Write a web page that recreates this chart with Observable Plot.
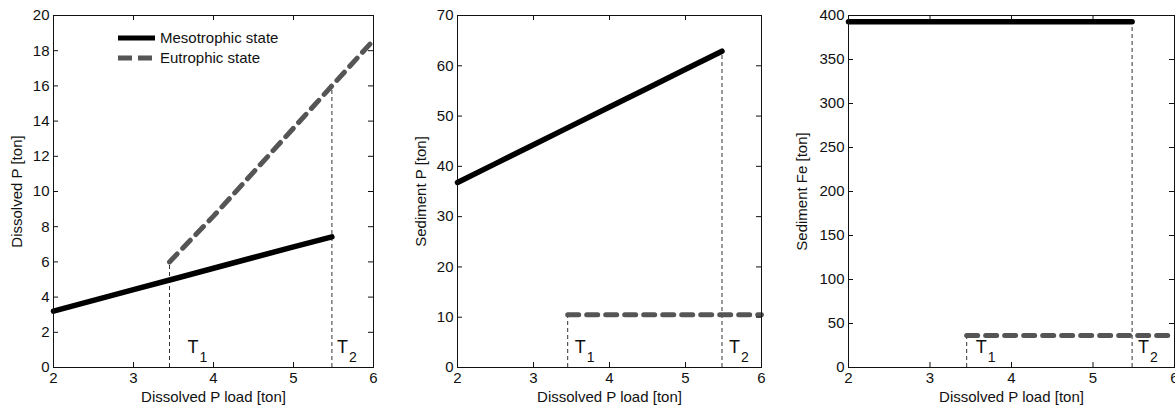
<!DOCTYPE html>
<html><head><meta charset="utf-8">
<script src="https://cdn.jsdelivr.net/npm/d3@7"></script>
<script src="https://cdn.jsdelivr.net/npm/@observablehq/plot@0.6"></script>
<style>
body{margin:0;background:#fff;font-family:"Liberation Sans",Arial,sans-serif;}
#wrap{position:relative;width:1175px;height:406px;overflow:hidden;background:#fff;}
.panel{position:absolute;top:0;}
.panel svg{overflow:visible;}
#legend{position:absolute;left:118px;top:28px;font-size:15px;color:#111;line-height:20px;}
#legend div{display:flex;align-items:center;height:20px;}
#legend svg{margin-right:5px;}
</style></head><body><div id="wrap"></div>
<script>
// ---- data ----
const xTicks = [2, 3, 4, 5, 6];
const yTicksDissolved = [0, 2, 4, 6, 8, 10, 12, 14, 16, 18, 20];
const yTicksSedP = [0, 10, 20, 30, 40, 50, 60, 70];
const yTicksSedFe = [0, 50, 100, 150, 200, 250, 300, 350, 400];

const loadMeso = [2.0, 2.5, 3.0, 3.5, 4.0, 4.5, 5.0, 5.48];
const dissolvedMeso = [3.2, 3.81, 4.42, 5.03, 5.64, 6.25, 6.85, 7.42];
const sedPMeso = [36.8, 40.55, 44.3, 48.05, 51.8, 55.55, 59.3, 62.9];
const sedFeMeso = [393, 393, 393, 393, 393, 393, 393, 393];

const loadEut = [3.45, 4.0, 4.5, 5.0, 5.48, 6.0];
const dissolvedEut = [6.0, 8.6, 11.1, 13.6, 16.0, 18.6];
const sedPEut = [10.5, 10.5, 10.5, 10.5, 10.5, 10.5];
const sedFeEut = [36.5, 36.5, 36.5, 36.5, 36.5, 36.5];

const thresholds = [3.45, 5.48];
const thresholdNames = ["T", "T"];
const thresholdSubs = ["1", "2"];
const thrTopDissolved = [6.0, 16.0];
const thrTopSedP = [10.5, 62.9];
const thrTopSedFe = [36.5, 393];

const seriesNames = ["Mesotrophic state", "Eutrophic state"];
const xLabel = "Dissolved P load [ton]";

// ---- layout ----
const H = 406, MT = 15, MB = 39;
const frameH = H - MT - MB;
const FS = 15;
const panels = [
  {left: 0, width: 390, ml: 53, mr: 17, yDomain: [0, 20], yTicks: yTicksDissolved, label: "Dissolved P [ton]", lo: 42,
   meso: dissolvedMeso, eut: dissolvedEut, thrTop: thrTopDissolved, tdx: [18, 5]},
  {left: 390, width: 390, ml: 67, mr: 19, yDomain: [0, 70], yTicks: yTicksSedP, label: "Sediment P [ton]", lo: 42,
   meso: sedPMeso, eut: sedPEut, thrTop: thrTopSedP, tdx: [7, 7]},
  {left: 780, width: 395, ml: 68, mr: 1, yDomain: [0, 400], yTicks: yTicksSedFe, label: "Sediment Fe [ton]", lo: 52,
   meso: sedFeMeso, eut: sedFeEut, thrTop: thrTopSedFe, tdx: [9, 6]}
];

const wrap = document.getElementById("wrap");
for (const p of panels) {
  const frameW = p.width - p.ml - p.mr;
  const mesoData = loadMeso.map((x, i) => ({x, v: p.meso[i]}));
  const eutData = loadEut.map((x, i) => ({x, v: p.eut[i]}));
  const thr = thresholds.map((x, i) => ({x, top: p.thrTop[i], name: thresholdNames[i], sub: thresholdSubs[i]}));
  const textMarks = [];
  thr.forEach((t, i) => {
    textMarks.push(Plot.text([t], {x: "x", text: "name", frameAnchor: "bottom", dx: p.tdx[i], dy: -15, textAnchor: "start", fontSize: 18, fill: "#111"}));
    textMarks.push(Plot.text([t], {x: "x", text: "sub", frameAnchor: "bottom", dx: p.tdx[i] + 12, dy: -6, textAnchor: "start", fontSize: 14, fill: "#111"}));
  });
  const chart = Plot.plot({
    width: p.width, height: H, marginTop: MT, marginBottom: MB, marginLeft: p.ml, marginRight: p.mr,
    x: {domain: [2, 6]},
    y: {domain: p.yDomain},
    style: {fontFamily: '"Liberation Sans", Arial, sans-serif', fontSize: FS + "px", color: "#111", background: "transparent", overflow: "visible"},
    marks: [
      Plot.ruleX(thr, {x: "x", y1: 0, y2: "top", stroke: "#333", strokeWidth: 1, strokeDasharray: "4,3"}),
      Plot.line(eutData, {x: "x", y: "v", stroke: "#555", strokeWidth: 5, strokeDasharray: "11,8", strokeLinecap: "round"}),
      Plot.line(mesoData, {x: "x", y: "v", stroke: "#000", strokeWidth: 5.5, strokeLinecap: "round"}),
      Plot.ruleX(xTicks, {x: d => d, insetTop: frameH - 5, stroke: "#111"}),
      Plot.ruleX(xTicks, {x: d => d, insetBottom: frameH - 5, stroke: "#111"}),
      Plot.ruleY(p.yTicks, {y: d => d, insetRight: frameW - 5, stroke: "#111"}),
      Plot.ruleY(p.yTicks, {y: d => d, insetLeft: frameW - 5, stroke: "#111"}),
      Plot.frame({stroke: "#111"}),
      Plot.axisX(xTicks, {tickSize: 0, tickPadding: 5, fontSize: FS, label: xLabel, labelAnchor: "center", labelOffset: 34, labelArrow: "none"}),
      Plot.axisY(p.yTicks, {tickSize: 0, tickPadding: 4, fontSize: FS, label: p.label, labelAnchor: "center", labelOffset: p.lo, labelArrow: "none"}),
      ...textMarks
    ]
  });
  const div = document.createElement("div");
  div.className = "panel";
  div.style.left = p.left + "px";
  div.appendChild(chart);
  wrap.appendChild(div);
}

// legend
const leg = document.createElement("div");
leg.id = "legend";
leg.innerHTML = `
<div><svg width="37" height="8"><line x1="0" y1="4" x2="37" y2="4" stroke="#000" stroke-width="5"/></svg><span>${seriesNames[0]}</span></div>
<div><svg width="37" height="8"><line x1="0" y1="4" x2="37" y2="4" stroke="#555" stroke-width="5" stroke-dasharray="14,6"/></svg><span>${seriesNames[1]}</span></div>`;
wrap.appendChild(leg);
</script></body></html>
